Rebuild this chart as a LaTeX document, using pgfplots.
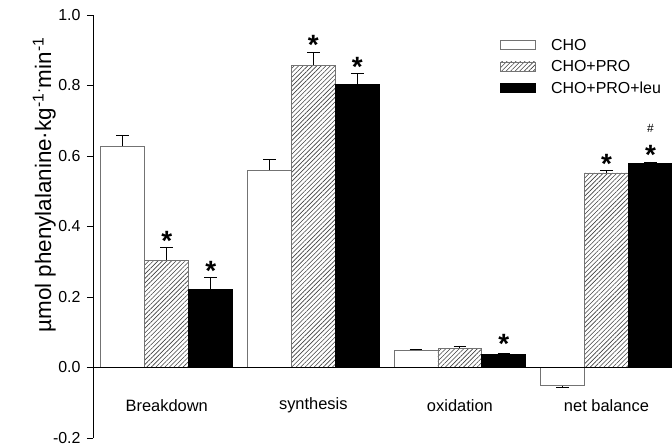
\documentclass[border=0pt]{standalone}
\usepackage{pgfplots}
\pgfplotsset{compat=1.18}
\usetikzlibrary{patterns.meta}
\usepackage{fontspec}
\setmainfont{Liberation Sans}
\definecolor{bordergray}{gray}{0.45}
\definecolor{hatchgray}{gray}{0.25}
\tikzset{star/.style={font=\bfseries\fontsize{28}{28}\selectfont, anchor=base, inner sep=0pt}}
\begin{document}
\begin{tikzpicture}
\begin{axis}[
  scale only axis, width=579bp, height=423bp,
  xmin=-0.503, xmax=3.447, ymin=-0.2, ymax=1.0,
  axis y line*=left, axis x line=none,
  ytick={-0.2,0,0.2,0.4,0.6,0.8,1.0},
  tick align=outside, major tick length=6bp,
  tick style={line width=0.8bp, black},
  y axis line style={line width=0.8bp},
  ticklabel style={font=\fontsize{16}{18}\selectfont},
  yticklabel style={xshift=-3bp, inner ysep=1bp, /pgf/number format/.cd,fixed,fixed zerofill,precision=1,assume math mode=true},
  ylabel={µmol phenylalanine·kg\textsuperscript{-1·}min\textsuperscript{-1}},
  ylabel style={font=\fontsize{22.5}{26}\selectfont, at={(axis description cs:-0.084,0.598)}, anchor=center, rotate=0},
  clip=false,
  ybar, bar width=0.3, bar shift=0pt,
  error bars/error bar style={line width=0.8bp, black},
  error bars/error mark options={rotate=90, line width=0.8bp, black, mark size=6.3bp},
  legend cell align=left,
  legend image code/.code={\draw[#1,/tikz/.cd] (0bp,-3.8bp) rectangle (35bp,5.2bp);},
  legend style={draw=none, fill=none, at={(axis description cs:0.703,0.948)}, anchor=north west,
    font=\fontsize{16}{18}\selectfont, inner sep=0pt, row sep=5bp,
    /tikz/every odd column/.append style={column sep=13bp}},
]
\addplot[draw=bordergray, fill=white, line width=0.8bp,
  error bars/.cd, y dir=plus, y explicit]
  table[x index=0, y index=1, y error index=2]{
-0.3 0.628 0.030
0.7  0.560 0.029
1.7  0.049 0.003
};
\addlegendentry{CHO}
\addplot[draw=bordergray, line width=0.8bp,
  pattern={Lines[angle=45,distance=3.2bp,line width=0.6bp]}, pattern color=hatchgray,
  error bars/.cd, y dir=plus, y explicit]
  table[x index=0, y index=1, y error index=2]{
0.0 0.304 0.038
1.0 0.858 0.035
2.0 0.054 0.007
3.0 0.552 0.008
};
\addlegendentry{CHO+PRO}
\addplot[draw=black, fill=black, line width=0.8bp,
  error bars/.cd, y dir=plus, y explicit]
  table[x index=0, y index=1, y error index=2]{
0.3 0.221 0.034
1.3 0.802 0.032
2.3 0.038 0.003
3.3 0.578 0.005
};
\addlegendentry{CHO+PRO+leu}
\addplot[draw=bordergray, fill=white, line width=0.8bp, forget plot,
  error bars/.cd, y dir=minus, y explicit]
  table[x index=0, y index=1, y error index=2]{
2.7 -0.052 0.004
};
\draw[line width=0.8bp] (axis cs:-0.544,0) -- (axis cs:3.447,0);
\node[star] at (axis cs:0,0.332) {*};
\node[star] at (axis cs:0.3,0.247) {*};
\node[star] at (axis cs:1,0.887) {*};
\node[star] at (axis cs:1.3,0.825) {*};
\node[star] at (axis cs:2.3,0.039) {*};
\node[star] at (axis cs:3,0.551) {*};
\node[star] at (axis cs:3.3,0.575) {*};
\node[font=\fontsize{12}{12}\selectfont, anchor=center, inner sep=0pt] at (axis cs:3.3,0.677) {\#};
\node[font=\fontsize{16.5}{18}\selectfont] at (axis cs:0,-0.108) {Breakdown};
\node[font=\fontsize{16.5}{18}\selectfont] at (axis cs:1,-0.108) {synthesis};
\node[font=\fontsize{16.5}{18}\selectfont] at (axis cs:2,-0.108) {oxidation};
\node[font=\fontsize{16.5}{18}\selectfont] at (axis cs:3,-0.108) {net balance};
\end{axis}
\pgfresetboundingbox
\path[use as bounding box] (-93bp,-8bp) rectangle (579bp,438bp);
\end{tikzpicture}
\end{document}
